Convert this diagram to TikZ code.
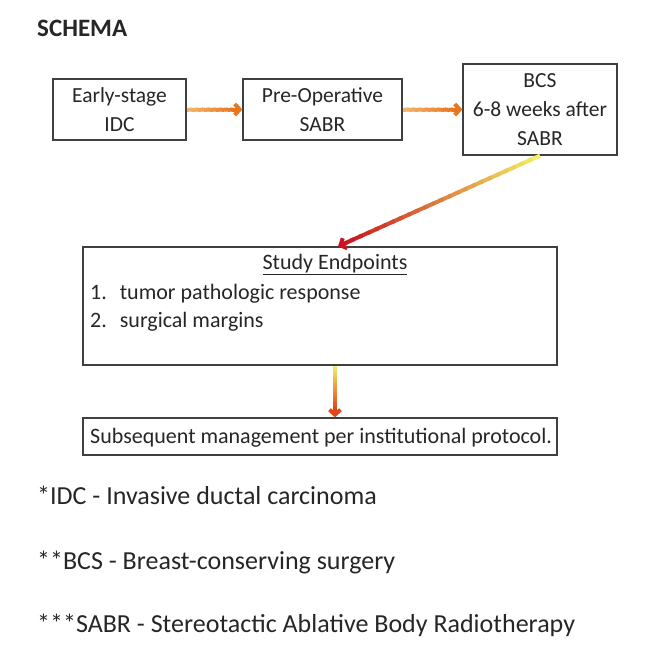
\documentclass[tikz,border=0pt]{standalone}
\usepackage{fontspec}
\setmainfont{Carlito}
\usetikzlibrary{calc,arrows.meta}

\definecolor{orangeA}{HTML}{F3B76E}
\definecolor{orangeB}{HTML}{E8761E}
\definecolor{yellowA}{HTML}{F4F264}
\definecolor{redB}{HTML}{C8141E}
\definecolor{redC}{HTML}{E0481A}

% shaded arrow: from, to, start colour, end colour
\newcommand{\shadedarrow}[4]{%
  \coordinate (sa-end) at ($(#2)!9pt!(#1)$);
  \foreach \i in {0,...,23}{
    \pgfmathsetmacro{\ta}{\i/24}
    \pgfmathsetmacro{\tb}{min((\i+1.4)/24,1)}
    \pgfmathtruncatemacro{\p}{100*(\i+0.5)/24}
    \draw[line width=4pt,#4!\p!#3] ($(#1)!\ta!(sa-end)$) -- ($(#1)!\tb!(sa-end)$);
  }
  \draw[line width=4pt,#4,-{Straight Barb[length=5pt,width=11pt]}]
    ($(#2)!10pt!(#1)$) -- (#2);
}

\begin{document}
\begin{tikzpicture}[x=1pt,y=-1pt,
    box/.style={draw=black!75,line width=1.2pt,inner sep=0pt,align=center,
      font=\fontsize{21.5}{29}\selectfont,text=black!85},
    txt/.style={inner sep=0pt,anchor=base west,text=black!85}]

    \useasboundingbox (0,0) rectangle (657,654);

    % Title
    \node[txt,font=\fontsize{25}{28}\selectfont\bfseries] (title) at (37,36) {SCHEMA};

    % Top row
    \node[box,minimum width=133,minimum height=61] (idc) at (119.5,109.5) {Early-stage\\IDC};
    \node[box,minimum width=159,minimum height=61] (sabr) at (322.5,109.5) {Pre-Operative\\SABR};
    \node[box,minimum width=154,minimum height=91] (bcs) at (540,109.5) {BCS\\6-8 weeks after\\SABR};

    % Endpoints
    \node[box,minimum width=474,minimum height=118] (ends) at (320,306) {};
    \node[txt,anchor=base,font=\fontsize{22}{26}\selectfont] (endt) at (335,269) {\underline{Study Endpoints}};
    \node[txt,font=\fontsize{22}{26}\selectfont] (end1) at (90,299) {1.\hspace{13pt}tumor pathologic response};
    \node[txt,font=\fontsize{22}{26}\selectfont] (end2) at (90,327) {2.\hspace{13pt}surgical margins};

    % Subsequent management
    \node[box,minimum width=474,minimum height=37] (mgmt) at (320,436.5) {};
    \node[txt,font=\fontsize{22}{26}\selectfont] (mgmtt) at (90,443) {Subsequent management per institutional protocol.};

    % Arrows
    \shadedarrow{idc.east}{sabr.west}{orangeA}{orangeB}
    \shadedarrow{sabr.east}{bcs.west}{orangeA}{orangeB}
    \shadedarrow{bcs.south}{$(ends.north)+(18,0)$}{yellowA}{redB}
    \shadedarrow{$(ends.south)+(15,0)$}{$(mgmt.north)+(15,0)$}{yellowA}{redC}

    % Footnotes
    \node[txt,font=\fontsize{26}{30}\selectfont] (note1) at (37,504) {*IDC - Invasive ductal carcinoma};
    \node[txt,font=\fontsize{26}{30}\selectfont] (note2) at (37,569) {**BCS - Breast-conserving surgery};
    \node[txt,font=\fontsize{26}{30}\selectfont] (note3) at (37,632) {***SABR - Stereotactic Ablative Body Radiotherapy};

\end{tikzpicture}
\end{document}
